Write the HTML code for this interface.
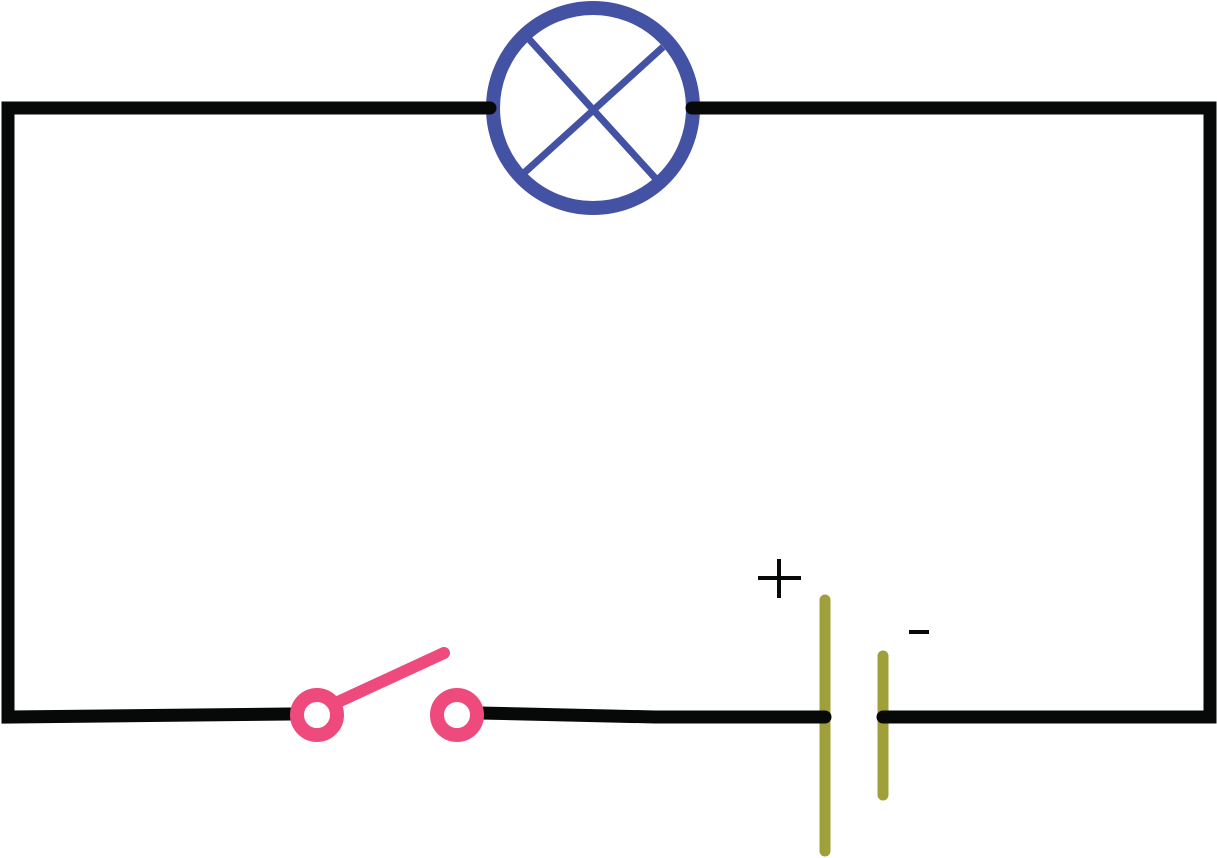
<!DOCTYPE html>
<html><head><style>html,body{margin:0;padding:0;background:#fff;}svg{display:block}</style></head>
<body>
<svg width="1217" height="858" viewBox="0 0 1217 858" xmlns="http://www.w3.org/2000/svg">
<circle cx="593" cy="108" r="100" fill="none" stroke="#4452a4" stroke-width="14"/>
<line x1="528" y1="38" x2="657" y2="180" stroke="#4452a4" stroke-width="7"/>
<line x1="663" y1="47" x2="524" y2="173" stroke="#4452a4" stroke-width="7"/>
<g stroke="#a0a03a" stroke-width="11" stroke-linecap="round">
<line x1="825" y1="600" x2="825" y2="851"/>
<line x1="883" y1="656" x2="883" y2="795"/>
</g>
<g fill="none" stroke="#070808" stroke-width="13" stroke-linecap="round" stroke-linejoin="miter">
<polyline points="490,108 8,108 8,717 290,714"/>
<polyline points="692,108 1210,108 1210,717 883,717"/>
<polyline points="480,713 655,717 825,717"/>
</g>
<g stroke="#ef4a7e" fill="#fff">
<line x1="338" y1="702" x2="444" y2="653" stroke-width="12" stroke-linecap="round"/>
<circle cx="317" cy="715" r="20" stroke-width="14"/>
<circle cx="457" cy="715" r="20" stroke-width="14"/>
</g>
<g stroke="#070808" stroke-width="4">
<line x1="758" y1="578" x2="801" y2="578"/>
<line x1="779" y1="559" x2="779" y2="598"/>
<line x1="909" y1="632" x2="929" y2="632"/>
</g>
</svg>
</body></html>
